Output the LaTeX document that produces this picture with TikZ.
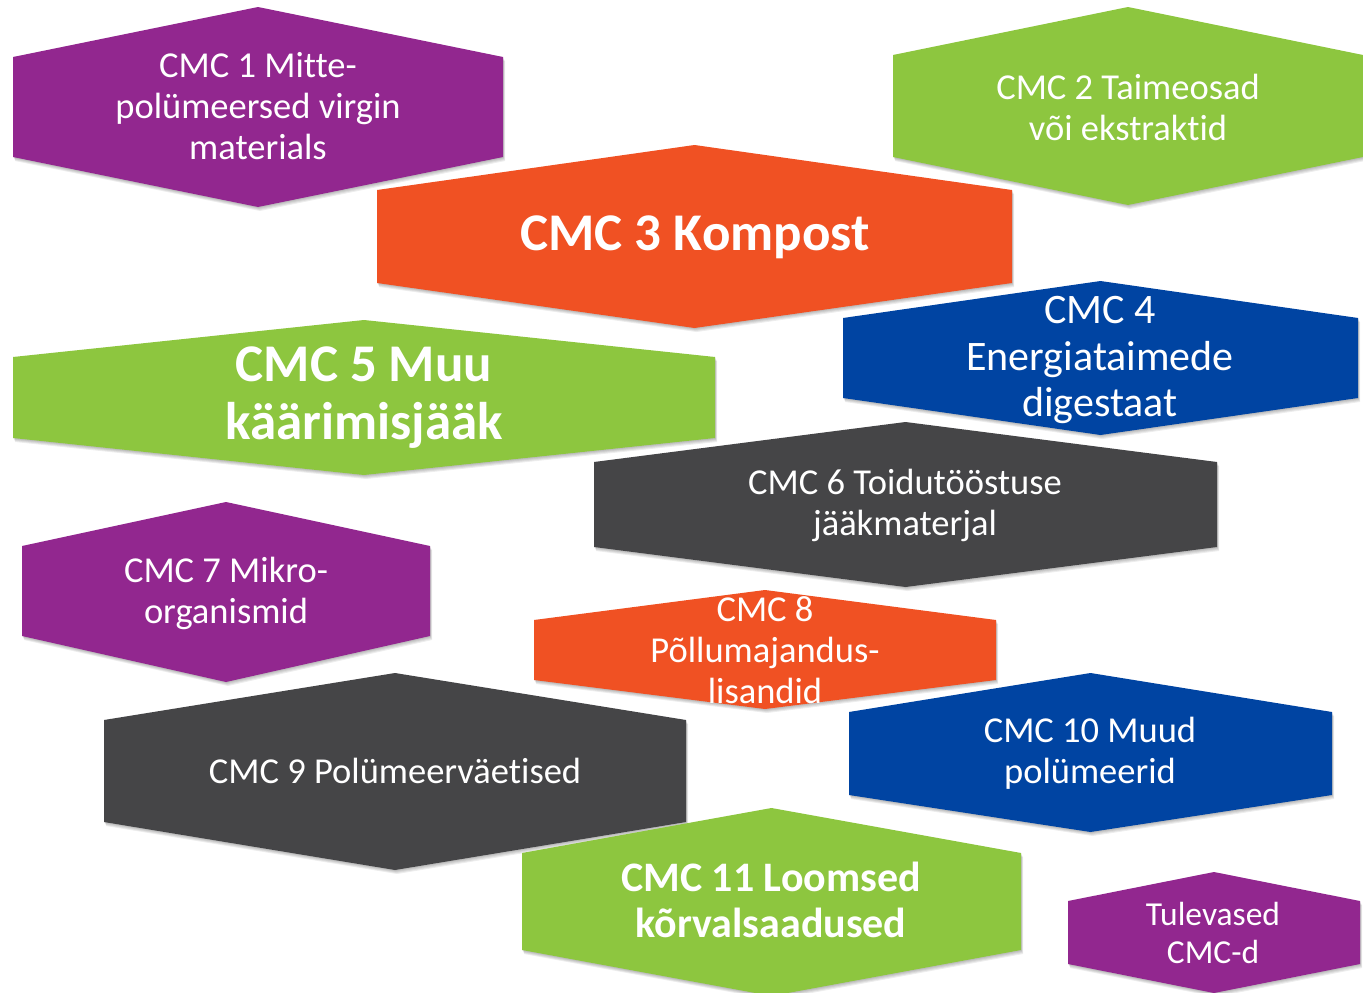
\documentclass[tikz,border=0pt]{standalone}
\usepackage{fontspec}
\setmainfont{Carlito}[Ligatures=NoCommon]

\definecolor{cmcpurple}{HTML}{92278F}
\definecolor{cmcgreen}{HTML}{8DC63F}
\definecolor{cmcorange}{HTML}{F05123}
\definecolor{cmcblue}{HTML}{0044A2}
\definecolor{cmcgray}{HTML}{454547}

% flat hexagon: left x, right x, top apex y, side top y, side bottom y, bottom apex y
\newcommand\hexoutline[6]{(#1,#4) -- ({(#1+#2)/2},#3) -- (#2,#4) -- (#2,#5) -- ({(#1+#2)/2},#6) -- (#1,#5) -- cycle}
% filled hexagon with a soft drop shadow
\newcommand\hexfill[7]{%
  \foreach \d in {1,2,3,4}{%
    \fill[black,opacity=0.07,xshift=\d*0.5pt,yshift=-\d*1pt] \hexoutline{#2}{#3}{#4}{#5}{#6}{#7};}
  \fill[#1] \hexoutline{#2}{#3}{#4}{#5}{#6}{#7};}

\tikzset{
  lbl/.style={text=white, align=center, inner sep=0pt},
  txtm/.style={lbl, font=\fontsize{36.5}{41}\selectfont},
  txtl/.style={lbl, font=\fontsize{42}{46.5}\selectfont},
  txts/.style={lbl, font=\fontsize{33.5}{38}\selectfont},
  boldxl/.style={lbl, font=\fontsize{53}{58}\selectfont\bfseries},
  boldl/.style={lbl, font=\fontsize{42}{46}\selectfont\bfseries},
}

\begin{document}
\begin{tikzpicture}[x=1pt,y=-1pt]
\fill[white] (0,0) rectangle (1363,993);
\useasboundingbox (0,0) rectangle (1363,993);

% shapes
\hexfill{cmcpurple}{13}{503}{7}{57}{157}{207}
\hexfill{cmcgreen}{893}{1363}{7}{55}{157}{205}
\hexfill{cmcorange}{377}{1012}{145}{190}{283}{328}
\hexfill{cmcblue}{843}{1358}{281}{318}{398}{435}
\hexfill{cmcgreen}{13}{715}{320}{357}{438}{475}
\hexfill{cmcgray}{594}{1217}{422}{462}{547}{587}
\hexfill{cmcpurple}{22}{430}{502}{546}{636}{682}
\hexfill{cmcorange}{534}{996}{590}{620}{680}{709}
\hexfill{cmcgray}{104}{686}{673}{720}{822}{870}
\hexfill{cmcblue}{849}{1332}{673}{712}{795}{832}
\hexfill{cmcgreen}{522}{1021}{808}{853}{950}{996}
\hexfill{cmcpurple}{1068}{1360}{872}{901}{964}{993}

% labels
\node[txtm] (c1) at (258,106) {CMC 1 Mitte-\\polümeersed virgin\\materials};
\node[txtm] (c2) at (1128,107) {CMC 2 Taimeosad\\või ekstraktid};
\node[boldxl] (c3) at (695,237) {CMC 3 Kompost};
\node[txtl] (c4) at (1100,360) {CMC 4\\Energiataimede\\digestaat};
\node[boldxl] (c5) at (364,398) {CMC 5 Muu\\käärimisjääk};
\node[txtm] (c6) at (905,505) {CMC 6 Toidutööstuse\\jääkmaterjal};
\node[txtm] (c7) at (226,593) {CMC 7 Mikro-\\organismid};
\node[txtm] (c8) at (765,650) {CMC 8\\Põllumajandus-\\lisandid};
\node[txtm] (c9) at (395,771) {CMC 9 Polümeerväetised};
\node[txtm] (c10) at (1090,753) {CMC 10 Muud\\polümeerid};
\node[boldl] (c11) at (771,900) {CMC 11 Loomsed\\kõrvalsaadused};
\node[txts] (c12) at (1213,933) {Tulevased\\CMC-d};
\end{tikzpicture}
\end{document}
